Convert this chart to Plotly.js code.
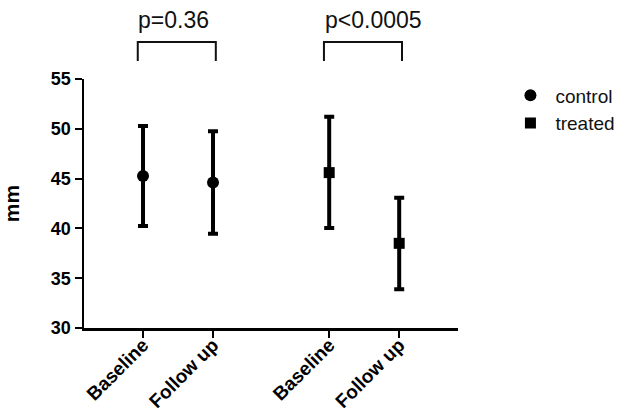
<!DOCTYPE html>
<html>
<head>
<meta charset="utf-8">
<script src="https://cdn.plot.ly/plotly-3.0.1.min.js"></script>
<style>html,body{margin:0;padding:0;background:#fff;}#chart{width:624px;height:418px;}</style>
</head>
<body>
<div id="chart"></div>
<script>
// ---- data ----
var groups = ['control', 'treated'];
var timepoints = ['Baseline', 'Follow up'];
var controlMean  = [45.26, 44.6];
var controlUpper = [50.28, 49.75];
var controlLower = [40.24, 39.47];
var treatedMean  = [45.6, 38.5];
var treatedUpper = [51.2, 43.08];
var treatedLower = [40.04, 33.9];
var pLabels = ['p=0.36', 'p<0.0005'];
var yTicks = [30, 35, 40, 45, 50, 55];

// ---- layout helpers (positions, not data) ----
var groupStart = [1, 3.66];
function xs(g) { return timepoints.map(function (t, i) { return groupStart[g] + i; }); }
function plus(m, u) { return m.map(function (v, i) { return u[i] - v; }); }
function minus(m, l) { return m.map(function (v, i) { return v - l[i]; }); }

var font = '"Liberation Sans", Arial, sans-serif';
var errStyle = {type: 'data', symmetric: false, color: '#000', thickness: 4, width: 5};

var traces = [
  {
    x: xs(0), y: controlMean, name: groups[0], type: 'scatter', mode: 'markers',
    marker: {symbol: 'circle', size: 12, color: '#000'},
    error_y: Object.assign({array: plus(controlMean, controlUpper), arrayminus: minus(controlMean, controlLower)}, errStyle),
    cliponaxis: false
  },
  {
    x: xs(1), y: treatedMean, name: groups[1], type: 'scatter', mode: 'markers',
    marker: {symbol: 'square', size: 11, color: '#000'},
    error_y: Object.assign({array: plus(treatedMean, treatedUpper), arrayminus: minus(treatedMean, treatedLower)}, errStyle),
    cliponaxis: false
  }
];

var tickvals = [].concat(xs(0), xs(1));
var ticktext = [].concat(timepoints, timepoints);

var shapes = [];
var annotations = [];
var yBot = 1.072, yTop = 1.149;
[0, 1].forEach(function (g) {
  var x0 = xs(g)[0] - 0.075, x1 = xs(g)[1] + 0.04;
  shapes.push({type: 'path', xref: 'x', yref: 'paper',
    path: 'M ' + x0 + ' ' + yBot + ' L ' + x0 + ' ' + yTop + ' L ' + x1 + ' ' + yTop + ' L ' + x1 + ' ' + yBot,
    line: {color: '#111', width: 2}});
  annotations.push({xref: 'x', yref: 'paper', x: x0 - 0.02, y: 1.237, xanchor: 'left', yanchor: 'middle',
    text: pLabels[g], showarrow: false, font: {family: font, size: 23, color: '#111'}});
});

var layout = {
  width: 624, height: 418,
  margin: {l: 84, r: 166, t: 79, b: 90},
  paper_bgcolor: '#fff', plot_bgcolor: '#fff',
  showlegend: true,
  legend: {xref: 'container', yref: 'container', x: 0.81, y: 0.817, xanchor: 'left', yanchor: 'top',
    font: {family: font, size: 19, color: '#111'}, itemwidth: 40, bgcolor: 'rgba(0,0,0,0)'},
  xaxis: {
    range: [0.157, 5.5], showgrid: false, zeroline: false,
    showline: true, linecolor: '#000', linewidth: 2.5,
    tickmode: 'array', tickvals: tickvals, ticktext: ticktext,
    ticks: 'outside', ticklen: 7, tickwidth: 2, tickcolor: '#000', ticklabelstandoff: -11,
    tickangle: -45, tickfont: {family: font, size: 19, color: '#000', weight: 'bold'}
  },
  yaxis: {
    range: [30, 55], showgrid: false, zeroline: false,
    showline: true, linecolor: '#000', linewidth: 2.5,
    tickmode: 'array', tickvals: yTicks,
    ticks: 'outside', ticklen: 7, tickwidth: 2, tickcolor: '#000',
    tickfont: {family: font, size: 18, color: '#000', weight: 'bold'},
    title: {text: '<b>mm</b>', font: {family: font, size: 21, color: '#000'}, standoff: 26}
  },
  shapes: shapes,
  annotations: annotations
};

Plotly.newPlot('chart', traces, layout, {staticPlot: true, displayModeBar: false});
</script>
</body>
</html>
